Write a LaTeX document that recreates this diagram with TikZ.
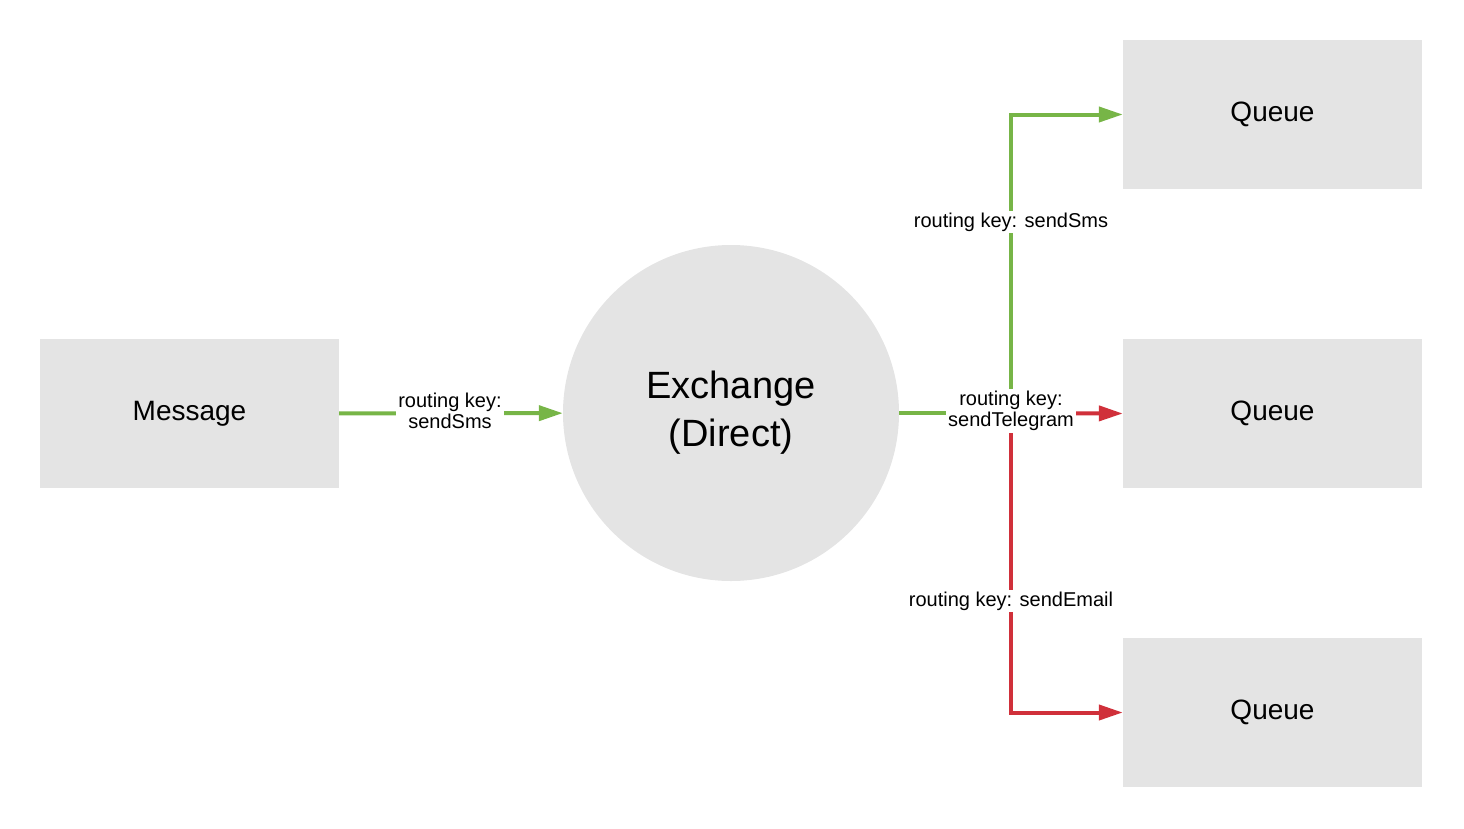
\documentclass[tikz,border=0pt]{standalone}
\usepackage{fontspec}
\setmainfont{Liberation Sans}
\usetikzlibrary{arrows.meta}
\definecolor{gr}{HTML}{77B547}
\definecolor{rd}{HTML}{D0303A}
\definecolor{bx}{HTML}{E4E4E4}
\begin{document}
\begin{tikzpicture}[x=1pt,y=-1pt,
 box/.style={fill=bx,draw=none,minimum width=299pt,minimum height=149pt,font=\fontsize{28}{32}\selectfont,inner sep=0},
 lab/.style={fill=white,font=\fontsize{20}{24}\selectfont,inner sep=2pt,align=center},
 conn/.style={line width=4pt,-{Triangle[length=24pt,width=15pt]}}]
\useasboundingbox (0,0) rectangle (1464,828);
\node[box] (msg) at (189.5,413.5) {Message};
\node[circle,fill=bx,minimum size=336pt,inner sep=0,align=center,font=\fontsize{38}{48}\selectfont] (ex) at (731,413) {Exchange\\(Direct)};
\node[box] (q1) at (1272.5,114.5) {Queue};
\node[box] (q2) at (1272.5,413.5) {Queue};
\node[box] (q3) at (1272.5,712.5) {Queue};
\coordinate (j) at (1011,413);
\draw[conn,gr] (msg) -- (ex);
\node[lab] at (450,411) {routing key:\\[-3pt]sendSms};
\draw[line width=4pt,gr] (ex.east) -- (j);
\draw[conn,gr] (j) -- (j|-q1) -- (q1.west);
\draw[conn,rd] (j) -- (q2.west);
\draw[conn,rd] (j) -- (j|-q3) -- (q3.west);
\node[lab] at (1011,222) {routing key: sendSms};
\node[lab] at (1011,411) {routing key:\\[-3pt]sendTelegram};
\node[lab] at (1011,601) {routing key: sendEmail};
\end{tikzpicture}
\end{document}
